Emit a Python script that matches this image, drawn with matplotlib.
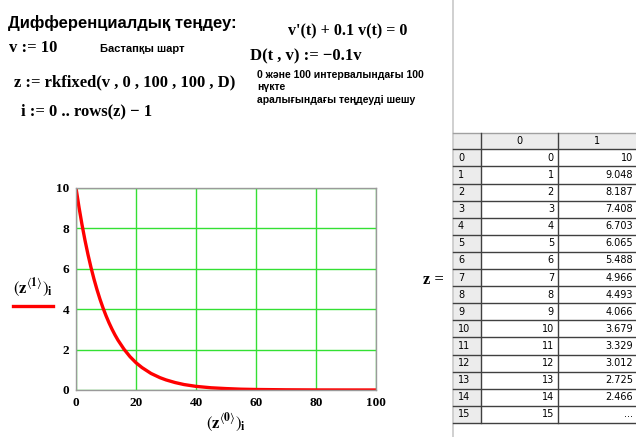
import matplotlib
matplotlib.use('Agg')
import matplotlib.pyplot as plt
from matplotlib.patches import Rectangle

plt.rcParams['mathtext.fontset'] = 'stix'

# table values shown on the right (rows 0..15)
row_idx = list(range(16))
col0 = ['0', '1', '2', '3', '4', '5', '6', '7', '8', '9', '10', '11', '12', '13', '14', '15']
col1 = ['10', '9.048', '8.187', '7.408', '6.703', '6.065', '5.488', '4.966', '4.493',
        '4.066', '3.679', '3.329', '3.012', '2.725', '2.466', '...']

# curve: first points from the table, the rest
t = [0, 1, 2, 3, 4, 5, 6, 7, 8, 9, 10, 11, 12, 13, 14,
     16, 18, 20, 22, 25, 28, 30, 33, 36, 40, 45, 50, 55, 60, 70, 80, 90, 100]
v = [10, 9.048, 8.187, 7.408, 6.703, 6.065, 5.488, 4.966, 4.493, 4.066, 3.679, 3.329, 3.012, 2.725, 2.466,
     2.02, 1.65, 1.35, 1.11, 0.82, 0.61, 0.50, 0.37, 0.27, 0.18, 0.11, 0.07, 0.04, 0.025, 0.01, 0.003, 0.001, 0.0]

xticks = [0, 20, 40, 60, 80, 100]
yticks = [0, 2, 4, 6, 8, 10]

W, H = 636, 437
fig = plt.figure(figsize=(W / 100, H / 100), dpi=100)

# overlay in pixel coordinates for the worksheet text and the table
ov = fig.add_axes([0, 0, 1, 1])
ov.set_xlim(0, W)
ov.set_ylim(H, 0)
ov.axis('off')

sans = 'Liberation Sans'
serif = 'Liberation Serif'
ov.text(8, 23, 'Дифференциалдық теңдеу:', fontsize=12, fontweight='bold', family=sans, va='center')
ov.text(9, 48, 'v := 10', fontsize=12, fontweight='bold', family=serif, va='center')
ov.text(100, 49, 'Бастапқы шарт', fontsize=8, fontweight='bold', family=sans, va='center')
ov.text(14, 82, 'z := rkfixed(v , 0 , 100 , 100 , D)', fontsize=12, fontweight='bold', family=serif, va='center')
ov.text(21, 111, 'i := 0 .. rows(z) \u2212 1', fontsize=12, fontweight='bold', family=serif, va='center')
ov.text(288, 31, "v'(t) + 0.1 v(t) = 0", fontsize=11.5, fontweight='bold', family=serif, va='center')
ov.text(250, 56, 'D(t , v) := \u22120.1v', fontsize=12, fontweight='bold', family=serif, va='center')
ov.text(257, 75, '0 және 100 интервалындағы 100', fontsize=7.5, fontweight='bold', family=sans, va='center')
ov.text(257, 87, 'нүкте', fontsize=7.5, fontweight='bold', family=sans, va='center')
ov.text(257, 100, 'аралығындағы теңдеуді шешу', fontsize=7.5, fontweight='bold', family=sans, va='center')

# separator line of the worksheet
ov.plot([453, 453], [0, H], color='#c8c8c8', lw=1.2)

# y label with legend line, x label
ov.text(33, 288, r'$\left(\mathbf{z}^{\langle\mathbf{1}\rangle}\right)_{\mathbf{i}}$', fontsize=12, ha='center', va='center')
ov.plot([13, 53], [306, 306], color='red', lw=2.4)
ov.text(226, 423, r'$\left(\mathbf{z}^{\langle\mathbf{0}\rangle}\right)_{\mathbf{i}}$', fontsize=12, ha='center', va='center')
ov.text(433, 280, 'z =', fontsize=12, fontweight='bold', family=serif, ha='center', va='center')

# table
cx = [453, 481, 558, 636]
top, hh, rh = 133, 16.3, 17.1
n = len(row_idx)
bottom = top + hh + rh * n
ov.add_patch(Rectangle((cx[0], top), cx[3] - cx[0], hh, facecolor='#ececec', edgecolor='none'))
ov.add_patch(Rectangle((cx[0], top), cx[1] - cx[0], bottom - top, facecolor='#ececec', edgecolor='none'))
tfs = 7
ov.text((cx[1] + cx[2]) / 2, top + hh / 2, '0', fontsize=tfs, ha='center', va='center')
ov.text((cx[2] + cx[3]) / 2, top + hh / 2, '1', fontsize=tfs, ha='center', va='center')
ov.plot([cx[0], cx[3]], [top, top], color='#a0a0a0', lw=1)
for k in range(n + 1):
    y = top + hh + rh * k
    ov.plot([cx[0], cx[3]], [y, y], color='#404040', lw=1)
for k in range(n):
    yc = top + hh + rh * (k + 0.5)
    ov.text(cx[0] + 5, yc, str(row_idx[k]), fontsize=tfs, ha='left', va='center')
    ov.text(cx[2] - 4, yc, col0[k], fontsize=tfs, ha='right', va='center')
    ov.text(cx[3] - 3, yc, col1[k], fontsize=tfs, ha='right', va='center')
ov.plot([cx[1], cx[1]], [top, bottom], color='#404040', lw=1)
ov.plot([cx[2], cx[2]], [top, bottom], color='#404040', lw=1)

# the plot
l, r, tp, bt = 76, 376, 188, 390
ax = fig.add_axes([l / W, 1 - bt / H, (r - l) / W, (bt - tp) / H])
ax.plot(t, v, color='red', lw=2.4)
ax.set_xlim(0, 100)
ax.set_ylim(0, 10)
ax.set_xticks(xticks)
ax.set_yticks(yticks)
ax.grid(True, color='#33e033', lw=1)
ax.set_axisbelow(True)
for s in ax.spines.values():
    s.set_color('#9a9a9a')
    s.set_linewidth(1)
ax.tick_params(length=0, pad=5)
for lab in ax.get_xticklabels() + ax.get_yticklabels():
    lab.set_family(serif)
    lab.set_fontweight('bold')
    lab.set_fontsize(9.5)

fig.savefig('out.png', dpi=100)
